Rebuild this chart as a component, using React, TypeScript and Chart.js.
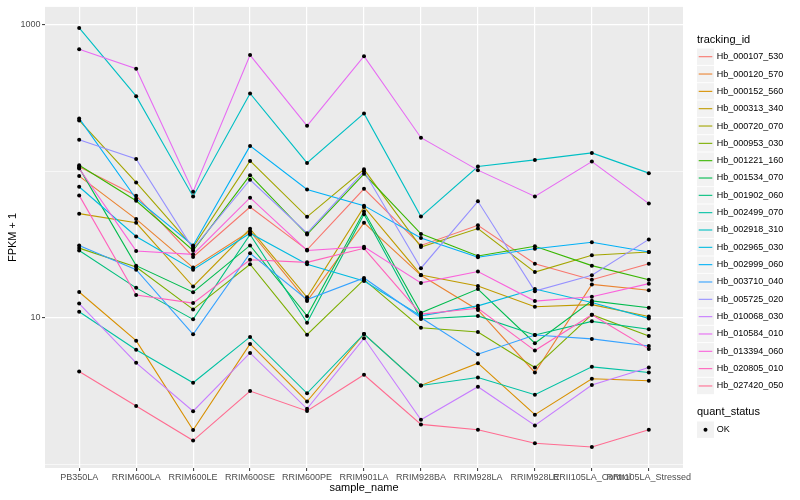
import React, { useEffect, useRef } from 'react';
import { Chart, registerables } from 'chart.js';

Chart.register(...registerables);

const categories = [
  'PB350LA', 'RRIM600LA', 'RRIM600LE', 'RRIM600SE', 'RRIM600PE', 'RRIM901LA',
  'RRIM928BA', 'RRIM928LA', 'RRIM928LE', 'RRII105LA_Control', 'RRII105LA_Stressed',
];

const seriesNames = [
  'Hb_000107_530', 'Hb_000120_570', 'Hb_000152_560', 'Hb_000313_340', 'Hb_000720_070',
  'Hb_000953_030', 'Hb_001221_160', 'Hb_001534_070', 'Hb_001902_060', 'Hb_002499_070',
  'Hb_002918_310', 'Hb_002965_030', 'Hb_002999_060', 'Hb_003710_040', 'Hb_005725_020',
  'Hb_010068_030', 'Hb_010584_010', 'Hb_013394_060', 'Hb_020805_010', 'Hb_027420_050',
];

const seriesColors = [
  '#F8766D', '#EA8331', '#D89000', '#C09B00', '#A3A500',
  '#7CAE00', '#39B600', '#00BB4E', '#00BF7D', '#00C1A3',
  '#00BFC4', '#00BAE0', '#00B0F6', '#35A2FF', '#9590FF',
  '#C77CFF', '#E76BF3', '#FA62DB', '#FF62BC', '#FF6C91',
];

// FPKM + 1 values, one array per tracking_id, in category order
const hb000107_530 = [107.3, 68.2, 26.0, 57.1, 29.1, 76.0, 31.2, 42.8, 23.4, 18.2, 23.4];
const hb000120_570 = [92.8, 47.2, 22.0, 39.0, 13.0, 44.5, 19.5, 11.3, 4.23, 16.9, 15.4];
const hb000152_560 = [15.0, 6.98, 1.71, 6.63, 2.68, 7.75, 3.45, 4.90, 2.18, 3.83, 3.71];
const hb000313_340 = [51.4, 44.5, 16.35, 40.5, 13.8, 57.1, 19.6, 16.5, 11.9, 12.3, 10.2];
const hb000720_070 = [222.7, 83.9, 30.4, 117.8, 48.9, 103.2, 30.4, 40.7, 20.5, 26.7, 28.1];
const hb000953_030 = [29.9, 22.2, 11.4, 23.2, 7.66, 18.2, 8.55, 8.0, 4.57, 10.5, 7.51];
const hb001221_160 = [109.9, 63.0, 28.8, 94.2, 37.0, 96.2, 37.4, 26.4, 30.8, 22.7, 18.2];
const hb001534_070 = [105.6, 22.7, 14.95, 31.2, 10.3, 53.1, 10.8, 15.7, 6.70, 13.05, 11.7];
const hb001902_060 = [28.8, 16.0, 9.75, 37.0, 9.25, 50.9, 9.8, 10.3, 7.63, 9.45, 8.34];
const hb002499_070 = [11.0, 6.04, 3.60, 7.40, 3.05, 7.75, 3.45, 3.91, 2.98, 4.62, 4.23];
const hb002918_310 = [954, 326, 67.4, 340, 114.2, 248.5, 49.1, 107.8, 119.7, 133.6, 97.2];
const hb002965_030 = [78.5, 35.9, 21.3, 37.8, 23.2, 17.8, 10.3, 12.06, 15.7, 12.7, 9.9];
const hb002999_060 = [229.8, 65.0, 31.2, 149.1, 75.2, 58.3, 35.0, 25.9, 29.6, 32.8, 28.1];
const hb003710_040 = [31.2, 21.3, 7.71, 27.6, 13.3, 18.7, 10.0, 5.64, 7.63, 7.17, 6.42];
const hb005725_020 = [164.4, 121.6, 29.6, 87.6, 37.8, 100, 21.8, 62.4, 15.2, 19.5, 34.3];
const hb010068_030 = [12.5, 4.92, 2.30, 5.75, 2.39, 7.24, 2.01, 3.38, 1.84, 3.47, 4.57];
const hb010584_010 = [682.9, 502.3, 72.6, 621.7, 204.7, 611.9, 169.7, 101.9, 67.4, 116.6, 60.2];
const hb013394_060 = [104.5, 28.6, 27.1, 66.1, 28.8, 30.5, 17.3, 20.7, 13.0, 13.9, 17.1];
const hb020805_010 = [68.5, 14.3, 12.6, 24.9, 23.9, 29.8, 10.6, 11.6, 5.97, 10.5, 6.13];
const hb027420_050 = [4.30, 2.50, 1.45, 3.16, 2.31, 4.08, 1.87, 1.72, 1.39, 1.31, 1.72];

const seriesValues = [
  hb000107_530, hb000120_570, hb000152_560, hb000313_340, hb000720_070,
  hb000953_030, hb001221_160, hb001534_070, hb001902_060, hb002499_070,
  hb002918_310, hb002965_030, hb002999_060, hb003710_040, hb005725_020,
  hb010068_030, hb010584_010, hb013394_060, hb020805_010, hb027420_050,
];

const yTickValues = [1, 10, 100, 1000];
const yTickLabels = ['', '10', '', '1000'];
const yMajor = [false, true, false, true];
const quantStatus = ['OK'];

const FONT = '"Liberation Sans", Arial, Helvetica, sans-serif';

const ggPlugin = {
  id: 'ggDecor',
  beforeDraw(chart: any) {
    const { ctx, chartArea: a } = chart;
    ctx.save();
    ctx.fillStyle = '#FFFFFF';
    ctx.fillRect(0, 0, chart.width, chart.height);
    ctx.fillStyle = '#EBEBEB';
    ctx.fillRect(a.left, a.top, a.right - a.left, a.bottom - a.top);
    ctx.restore();
  },
  afterDraw(chart: any) {
    const { ctx } = chart;
    ctx.save();
    ctx.textBaseline = 'middle';
    ctx.textAlign = 'left';
    ctx.fillStyle = '#000000';
    ctx.font = `11px ${FONT}`;
    ctx.fillText('tracking_id', 697, 40);
    const step = 17.33;
    seriesNames.forEach((name, i) => {
      const cy = 56.7 + i * step;
      ctx.fillStyle = '#F2F2F2';
      ctx.fillRect(697, cy - 8.2, 17, 16.4);
      ctx.strokeStyle = seriesColors[i];
      ctx.lineWidth = 1.1;
      ctx.beginPath();
      ctx.moveTo(698.7, cy);
      ctx.lineTo(712.3, cy);
      ctx.stroke();
      ctx.fillStyle = '#000000';
      ctx.font = `9px ${FONT}`;
      ctx.fillText(name, 716.7, cy);
    });
    ctx.font = `11px ${FONT}`;
    ctx.fillText('quant_status', 697, 412.3);
    quantStatus.forEach((q, i) => {
      const cy = 429.7 + i * step;
      ctx.fillStyle = '#F2F2F2';
      ctx.fillRect(697, cy - 8.2, 17, 16.4);
      ctx.fillStyle = '#000000';
      ctx.beginPath();
      ctx.arc(705.5, cy, 2, 0, Math.PI * 2);
      ctx.fill();
      ctx.font = `9px ${FONT}`;
      ctx.fillText(q, 716.7, cy);
    });
    ctx.restore();
  },
};

export default function App() {
  const ref = useRef<HTMLCanvasElement | null>(null);

  useEffect(() => {
    if (!ref.current) return;
    const n = seriesValues.length;
    const lineSets = seriesValues.map((vals, i) => ({
      label: seriesNames[i],
      data: vals.map((v, j) => ({ x: j, y: v })),
      borderColor: seriesColors[i],
      backgroundColor: seriesColors[i],
      borderWidth: 1.1,
      pointRadius: 0,
      pointHoverRadius: 0,
      fill: false,
      tension: 0,
      order: 10 + (n - i),
    }));
    const pointSet = {
      label: 'quant_status',
      data: seriesValues.flatMap((vals) => vals.map((v, j) => ({ x: j, y: v }))),
      showLine: false,
      borderWidth: 0,
      pointRadius: 2,
      pointHoverRadius: 2,
      pointBackgroundColor: '#000000',
      pointBorderWidth: 0,
      order: 0,
    };

    const chart = new Chart(ref.current, {
      type: 'line',
      data: { datasets: [...lineSets, pointSet] as any },
      plugins: [ggPlugin],
      options: {
        animation: false,
        responsive: false,
        devicePixelRatio: 1,
        layout: { padding: { left: 0, right: 117, top: 5, bottom: 0 } },
        plugins: { legend: { display: false }, tooltip: { enabled: false } },
        scales: {
          x: {
            type: 'linear',
            min: -0.6,
            max: 10.6,
            afterBuildTicks: (scale: any) => {
              scale.ticks = categories.map((_, i) => ({ value: i }));
            },
            afterFit: (scale: any) => {
              scale.height = 32;
            },
            ticks: {
              autoSkip: false,
              maxRotation: 0,
              minRotation: 0,
              padding: 1.5,
              color: '#4D4D4D',
              font: { family: FONT, size: 9 },
              callback: (v: any) => categories[Math.round(Number(v))] ?? '',
            },
            grid: {
              color: '#FFFFFF',
              lineWidth: 1.2,
              drawTicks: true,
              tickLength: 3,
              tickColor: '#333333',
              tickWidth: 1,
            },
            border: { display: false },
            title: {
              display: true,
              text: 'sample_name',
              color: '#000000',
              font: { family: FONT, size: 11 },
              padding: { top: 0, bottom: 5.4 },
            },
          },
          y: {
            type: 'logarithmic',
            min: 0.942,
            max: 1327,
            afterBuildTicks: (scale: any) => {
              scale.ticks = yTickValues.map((v) => ({ value: v }));
            },
            afterFit: (scale: any) => {
              scale.width = 45;
            },
            ticks: {
              autoSkip: false,
              padding: 1.5,
              color: '#4D4D4D',
              font: { family: FONT, size: 9 },
              callback: (v: any) => {
                const idx = yTickValues.indexOf(Number(v));
                return idx >= 0 ? yTickLabels[idx] : '';
              },
            },
            grid: {
              color: '#FFFFFF',
              lineWidth: (c: any) => {
                const idx = yTickValues.indexOf(c.tick?.value);
                return idx >= 0 && yMajor[idx] ? 1.2 : 0.6;
              },
              drawTicks: true,
              tickLength: 3,
              tickColor: (c: any) => {
                const idx = yTickValues.indexOf(c.tick?.value);
                return idx >= 0 && yMajor[idx] ? '#333333' : 'rgba(0,0,0,0)';
              },
              tickWidth: 1,
            },
            border: { display: false },
            title: {
              display: true,
              text: 'FPKM + 1',
              color: '#000000',
              font: { family: FONT, size: 11 },
              padding: { top: 6.4, bottom: 0 },
            },
          },
        },
      } as any,
    });
    return () => chart.destroy();
  }, []);

  return (
    <div style={{ position: 'fixed', left: 0, top: 0, width: 800, height: 500, background: '#fff' }}>
      <canvas ref={ref} width={800} height={500} style={{ width: 800, height: 500, display: 'block' }} />
    </div>
  );
}
